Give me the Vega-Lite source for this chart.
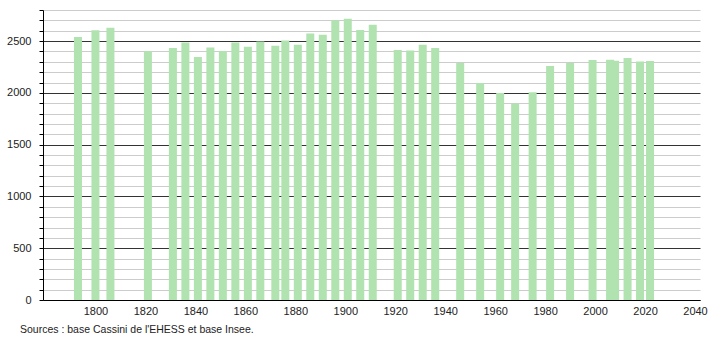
{
  "$schema": "https://vega.github.io/schema/vega-lite/v6.json",
  "autosize": {"type": "none"},
  "padding": {"left": 43, "top": 10, "right": 10, "bottom": 40},
  "width": 657,
  "height": 290,
  "background": "white",
  "config": {
    "view": {"stroke": null},
    "font": "Liberation Sans",
    "axis": {"labelFont": "Liberation Sans", "labelFontSize": 11, "labelColor": "#222", "domainColor": "#000", "domainWidth": 1, "tickColor": "#000"}
  },
  "title": {
    "text": "Sources : base Cassini de l'EHESS et base Insee.",
    "orient": "bottom",
    "anchor": "start",
    "frame": "group",
    "dx": -23,
    "offset": 9,
    "fontSize": 10.5,
    "fontWeight": "normal",
    "font": "Liberation Sans",
    "color": "#222"
  },
  "data": {
    "values": [
      {"year": 1793, "pop": 2540},
      {"year": 1800, "pop": 2605},
      {"year": 1806, "pop": 2628},
      {"year": 1821, "pop": 2402},
      {"year": 1831, "pop": 2434},
      {"year": 1836, "pop": 2486},
      {"year": 1841, "pop": 2347},
      {"year": 1846, "pop": 2438},
      {"year": 1851, "pop": 2405},
      {"year": 1856, "pop": 2486},
      {"year": 1861, "pop": 2444},
      {"year": 1866, "pop": 2496},
      {"year": 1872, "pop": 2454},
      {"year": 1876, "pop": 2506},
      {"year": 1881, "pop": 2464},
      {"year": 1886, "pop": 2574},
      {"year": 1891, "pop": 2561},
      {"year": 1896, "pop": 2700},
      {"year": 1901, "pop": 2716},
      {"year": 1906, "pop": 2606},
      {"year": 1911, "pop": 2658},
      {"year": 1921, "pop": 2415},
      {"year": 1926, "pop": 2410},
      {"year": 1931, "pop": 2464},
      {"year": 1936, "pop": 2434},
      {"year": 1946, "pop": 2289},
      {"year": 1954, "pop": 2095},
      {"year": 1962, "pop": 1998},
      {"year": 1968, "pop": 1898},
      {"year": 1975, "pop": 2005},
      {"year": 1982, "pop": 2260},
      {"year": 1990, "pop": 2289},
      {"year": 1999, "pop": 2318},
      {"year": 2006, "pop": 2320},
      {"year": 2008, "pop": 2310},
      {"year": 2013, "pop": 2337},
      {"year": 2018, "pop": 2302},
      {"year": 2022, "pop": 2308}
    ]
  },
  "mark": {"type": "bar", "size": 8, "color": "#b0e3b0"},
  "encoding": {
    "x": {
      "field": "year",
      "type": "quantitative",
      "scale": {"domain": [1779, 2042], "nice": false, "zero": false, "padding": 0},
      "axis": {
        "title": null,
        "values": [1800, 1820, 1840, 1860, 1880, 1900, 1920, 1940, 1960, 1980, 2000, 2020, 2040],
        "format": "d",
        "ticks": false,
        "grid": false,
        "labelPadding": 5,
        "labelFlush": false
      }
    },
    "y": {
      "field": "pop",
      "type": "quantitative",
      "scale": {"domain": [0, 2800], "nice": false},
      "axis": {
        "title": null,
        "values": [0, 100, 200, 300, 400, 500, 600, 700, 800, 900, 1000, 1100, 1200, 1300, 1400, 1500, 1600, 1700, 1800, 1900, 2000, 2100, 2200, 2300, 2400, 2500, 2600, 2700, 2800],
        "labelExpr": "datum.value % 500 === 0 ? datum.value : ''",
        "tickSize": 4,
        "labelPadding": 8,
        "grid": true,
        "gridColor": {"condition": {"test": "datum.value % 500 === 0", "value": "#333"}, "value": "#cccccc"},
        "gridWidth": 1,
        "labelFlush": false
      }
    }
  }
}
